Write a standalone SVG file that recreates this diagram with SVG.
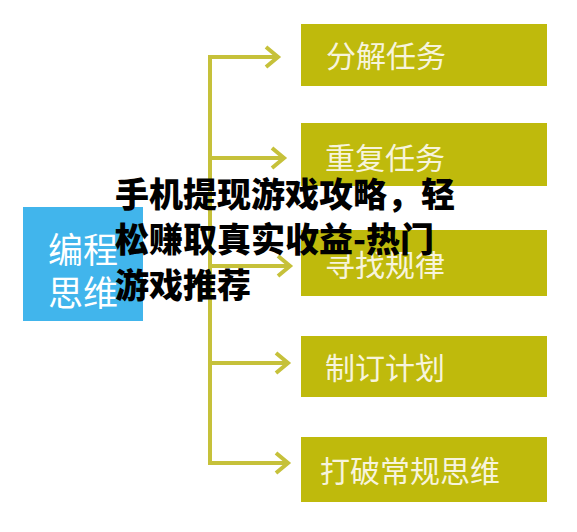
<svg xmlns="http://www.w3.org/2000/svg" width="577" height="532" viewBox="0 0 577 532">
<style>
.box{fill:#bfba0c}
.lbl{fill:#f7f4dc;font-family:"Noto Sans CJK SC","Noto Sans",sans-serif;font-size:30px;dominant-baseline:central}
.conn{stroke:#c6c13a;stroke-width:4;fill:none;stroke-linecap:square}
.head{stroke:#c6c13a;stroke-width:4;fill:none;stroke-linejoin:miter}
.blue{fill:#41b5ec}
.bl{fill:#ffffff;font-family:"Noto Sans CJK SC","Noto Sans",sans-serif;font-size:35px;dominant-baseline:central}
.ov{fill:#000;font-family:"Noto Sans CJK SC","Noto Sans",sans-serif;font-size:34px;font-weight:900;dominant-baseline:central}
</style>
<rect width="577" height="532" fill="#ffffff"/>
<g id="connectors">
<path class="conn" d="M210 57 V463"/>
<path class="conn" d="M210 57 H276"/>
<path class="conn" d="M210 158 H282"/>
<path class="conn" d="M210 266 H288"/>
<path class="conn" d="M210 363 H286"/>
<path class="conn" d="M210 463 H286"/>
<path class="head" d="M266 47 L278 57 L266 67"/>
<path class="head" d="M272 148 L284 158 L272 168"/>
<path class="head" d="M278 256 L290 266 L278 276"/>
<path class="head" d="M276 353 L288 363 L276 373"/>
<path class="head" d="M276 453 L288 463 L276 473"/>
</g>
<g id="root">
<rect class="blue" x="23" y="207" width="120" height="114"/>
<text class="bl" x="48" y="247">编程</text>
<text class="bl" x="48" y="290">思维</text>
</g>
<g id="n1"><rect class="box" x="301" y="24" width="246" height="62"/><text class="lbl" x="326" y="54">分解任务</text></g>
<g id="n2"><rect class="box" x="301" y="123" width="246" height="63"/><text class="lbl" x="325" y="156">重复任务</text></g>
<g id="n3"><rect class="box" x="301" y="230" width="246" height="66"/><text class="lbl" x="325" y="263">寻找规律</text></g>
<g id="n4"><rect class="box" x="301" y="336" width="246" height="61"/><text class="lbl" x="325" y="366">制订计划</text></g>
<g id="n5"><rect class="box" x="301" y="437" width="246" height="65"/><text class="lbl" x="320" y="469">打破常规思维</text></g>
<g id="overlay">
<text class="ov" x="115" y="192">手机提现游戏攻略，轻</text>
<text class="ov" x="115" y="237">松赚取真实收益-热门</text>
<text class="ov" x="115" y="283">游戏推荐</text>
</g>
</svg>
